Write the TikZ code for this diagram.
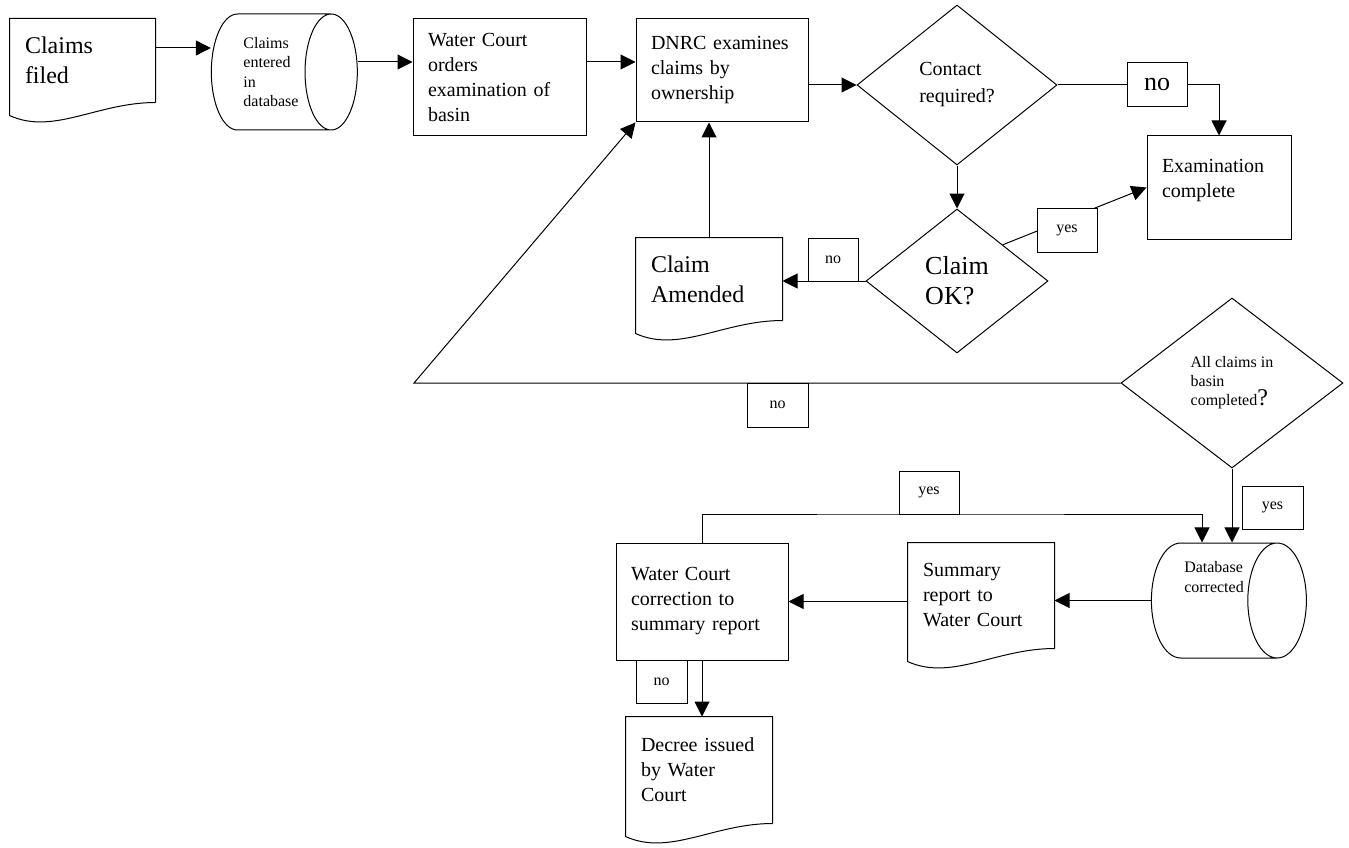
\documentclass[tikz,border=0pt]{standalone}
\usepackage{fontspec}
\setmainfont{Liberation Serif}
\usepackage{tikz}
\usetikzlibrary{calc}
\usetikzlibrary{arrows.meta}
\usetikzlibrary{shapes.geometric}
\tikzset{>={Triangle[length=15pt,width=15pt]}}
\tikzstyle{box} = [rectangle, draw, inner xsep=15pt, inner ysep=0pt, align=left]
\tikzstyle{doc} = [rectangle, draw=none, inner xsep=15pt, inner ysep=0pt, align=left]
\tikzstyle{tag} = [rectangle, draw, fill=white, inner sep=0pt]
\tikzstyle{drum} = [cylinder, draw, inner sep=0pt, align=left]
\tikzstyle{ask} = [diamond, draw, inner sep=0pt, align=left]
\tikzstyle{big} = [font=\fontsize{24}{30}\selectfont]
\tikzstyle{mid} = [font=\fontsize{20}{25}\selectfont]
\tikzstyle{small} = [font=\fontsize{16}{19.5}\selectfont]

% document outline with wavy bottom edge
\newcommand{\docoutline}[1]{%
  \draw (#1.south east) -- (#1.north east) -- (#1.north west)
    -- ([yshift=-13pt]#1.south west)
    .. controls ([yshift=-33pt]$(#1.south west)!0.3!(#1.south east)$)
    and ($(#1.south west)!0.6!(#1.south east)$) .. (#1.south east);}

\begin{document}
\begin{tikzpicture}[x=1pt, y=-1pt, line width=1pt]
\useasboundingbox (0, 0) rectangle (1349, 848);

% top row
\node [doc, big, text width=115pt, minimum height=83pt] (filed) at (82.5, 60.5) {Claims\\filed};
\node [drum, small, minimum width=116pt, minimum height=146pt, shape aspect=0.75] (entered) at (271, 72) {Claims\\entered\\in\\database};
\node [box, mid, text width=143pt, minimum height=117pt] (orders) at (499.5, 77.5) {Water Court\\orders\\examination of\\basin};
\node [box, mid, text width=142pt, minimum height=103pt] (dnrc) at (722, 70.5) {DNRC examines\\claims by\\ownership};
\node [ask, font=\fontsize{20}{27}\selectfont, minimum width=200pt, minimum height=160pt] (contact) at (957, 85) {Contact\\required?};
\node [box, mid, text width=114pt, minimum height=103pt] (exam) at (1219, 187.5) {Examination\\complete\\[-6pt]\mbox{}};

% review loop
\node [ask, font=\fontsize{26}{30}\selectfont, minimum width=182pt, minimum height=144pt] (claimok) at (957, 281) {Claim\\OK?};
\node [doc, big, text width=116pt, minimum height=82pt] (amended) at (709, 279) {Claim\\Amended};
\node [ask, font=\fontsize{16}{19}\selectfont, minimum width=222pt, minimum height=170pt] (allok) at (1232, 383) {All claims in\\basin\\completed{\fontsize{24}{24}\selectfont ?}};
\coordinate (bend) at (414, 383);

% bottom row
\node [drum, small, minimum width=115pt, minimum height=155pt, shape aspect=0.75] (db) at (1214, 600.5) {Database\\corrected\\[28pt]\mbox{}};
\node [doc, mid, text width=116pt, minimum height=105pt] (summary) at (981, 595.5) {Summary\\report to\\Water Court};
\node [box, mid, text width=142pt, minimum height=117pt] (wcfix) at (702, 601.5) {Water Court\\correction to\\summary report};
\node [doc, mid, text width=116pt, minimum height=106pt] (decree) at (699, 770) {Decree issued\\by Water\\Court};

\docoutline{filed}
\docoutline{amended}
\docoutline{summary}
\docoutline{decree}

% connectors
\draw [->] ([yshift=12.5pt]filed.east) -- ([yshift=12.5pt]filed.east -| entered.west);
\draw [->] ([yshift=10pt]entered.east) -- ([yshift=10pt]entered.east -| orders.west);
\draw [->] ([yshift=15.5pt]orders.east) -- ([yshift=15.5pt]orders.east -| dnrc.west);
\draw [->] (dnrc.east |- contact.west) -- (contact.west);
\draw (contact.east) -- (1127, 85);
\draw [->] (1187, 85) -| (exam.north);
\draw [->] (contact.south) -- (claimok.north);
\draw [->] (claimok.north east) -- (exam.west);
\draw [->] (claimok.west) -- (claimok.west -| amended.east);
\draw [->] (amended.north) -- (amended.north |- dnrc.south);
\draw [->] (allok.west) -- (bend) -- (dnrc.south west);
\draw [->] (allok.south) -- (allok.south |- db.north);
\draw [->] (wcfix.north) |- (929, 514) -| ([xshift=-30pt]allok.south |- db.north);
\draw [->] (db.west) -- (db.west -| summary.east);
\draw [->] (summary.west |- wcfix.east) -- (wcfix.east);
\draw [->] (wcfix.south) -- (wcfix.south |- decree.north);

% branch labels
\node [tag, font=\fontsize{26}{26}\selectfont, minimum width=60pt, minimum height=44pt] (no1) at (1157, 85) {no};
\node [tag, small, minimum width=60pt, minimum height=44pt] (yes1) at (1067, 230) {yes};
\node [tag, small, minimum width=50pt, minimum height=43pt] (no2) at (833, 259.5) {no};
\node [tag, small, minimum width=61pt, minimum height=44pt] (no3) at (777.5, 405) {no};
\node [tag, small, minimum width=61pt, minimum height=43pt] (yes2) at (1272.5, 507.5) {yes};
\node [tag, small, minimum width=60pt, minimum height=43pt] (yes3) at (929, 492.5) {yes};
\node [tag, small, minimum width=51pt, minimum height=43pt] (no4) at (661.5, 681.5) {no};
\end{tikzpicture}
\end{document}
